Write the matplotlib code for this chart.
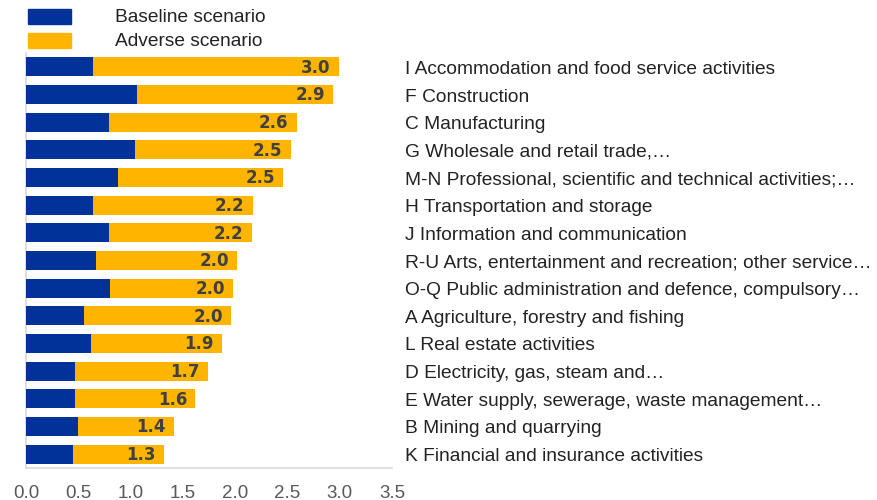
import matplotlib
matplotlib.use("Agg")
import matplotlib.pyplot as plt
import matplotlib.transforms as mtransforms
from matplotlib.patches import Rectangle
import numpy as np

categories = [
    "I Accommodation and food service activities",
    "F Construction",
    "C Manufacturing",
    "G Wholesale and retail trade,…",
    "M-N Professional, scientific and technical activities;…",
    "H Transportation and storage",
    "J Information and communication",
    "R-U Arts, entertainment and recreation; other service…",
    "O-Q Public administration and defence, compulsory…",
    "A Agriculture, forestry and fishing",
    "L Real estate activities",
    "D Electricity, gas, steam and…",
    "E Water supply, sewerage, waste management…",
    "B Mining and quarrying",
    "K Financial and insurance activities",
]
adverse = [2.99, 2.94, 2.59, 2.53, 2.46, 2.17, 2.16, 2.02, 1.98, 1.96, 1.87, 1.74, 1.62, 1.42, 1.32]
baseline = [0.64, 1.06, 0.79, 1.04, 0.88, 0.64, 0.79, 0.67, 0.80, 0.55, 0.62, 0.47, 0.47, 0.50, 0.45]
xticks = [0.0, 0.5, 1.0, 1.5, 2.0, 2.5, 3.0, 3.5]
legend_labels = ["Baseline scenario", "Adverse scenario"]

BLUE = "#003299"
YELLOW = "#FFB400"

plt.rcParams['font.family'] = ['Liberation Sans', 'DejaVu Sans']

fig = plt.figure(figsize=(8.77, 5.0), dpi=100)
ax = fig.add_axes([26/877, 32/500, (392-26)/877, (468-53)/500])

y = np.arange(len(categories))
ax.barh(y, adverse, height=0.69, color=YELLOW, edgecolor='none', zorder=2)
ax.barh(y, baseline, height=0.69, color=BLUE, edgecolor='none', zorder=3)

for yi, v in zip(y, adverse):
    ax.annotate(f"{v:.1f}", xy=(v, yi), xytext=(-6, -0.5), textcoords='offset points',
                ha='right', va='center', fontsize=12, fontweight='bold',
                color='#404040', family=['DejaVu Sans'], zorder=4)

ax.set_xlim(0, 3.5)
ax.set_ylim(len(categories) - 0.5, -0.5)
ax.set_xticks(xticks)
ax.set_xticklabels([f"{t:.1f}" for t in xticks], fontsize=13.5, color='#595959')
ax.set_yticks([])
ax.tick_params(axis='both', length=0)
ax.tick_params(axis='x', pad=12)

# category labels to the right of the plot area
lab_tr = ax.get_yaxis_transform() + mtransforms.ScaledTranslation(13/100, -2.5/100, fig.dpi_scale_trans)
for yi, cat in zip(y, categories):
    ax.text(1.0, yi, cat, transform=lab_tr, fontsize=13.8, color='#222222',
            ha='left', va='center', clip_on=False)

for s in ['top', 'right']:
    ax.spines[s].set_visible(False)
for s in ['left', 'bottom']:
    ax.spines[s].set_color('#d9d9d9')
    ax.spines[s].set_linewidth(1.2)

# legend drawn manually
for i, (lab, col) in enumerate(zip(legend_labels, [BLUE, YELLOW])):
    yc = 16.5 + 24 * i
    fig.patches.append(Rectangle((28/877, 1 - (yc + 7.5)/500), 43/877, 15/500,
                                 transform=fig.transFigure, color=col))
    fig.text(115/877, 1 - (yc + 1)/500, lab, fontsize=13.8, color='#222222', va='center', ha='left')

fig.savefig("out.png", dpi=100)
